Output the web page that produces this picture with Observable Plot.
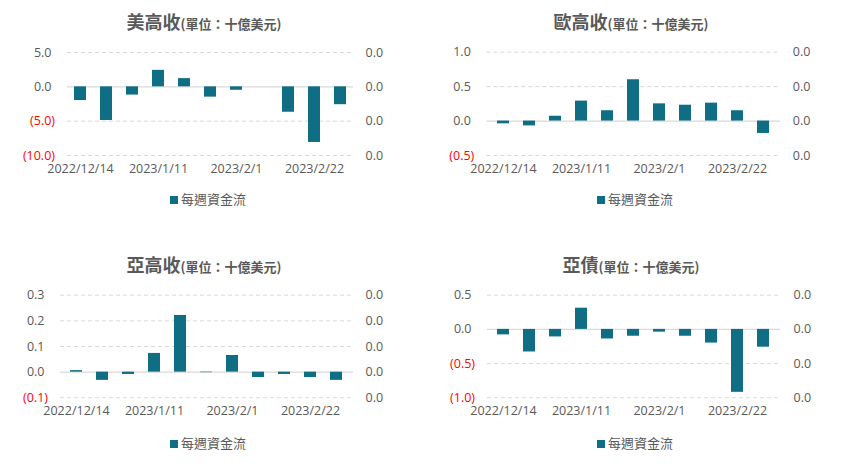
<!DOCTYPE html>
<html>
<head>
<meta charset="utf-8">
<script src="https://cdn.jsdelivr.net/npm/d3@7"></script>
<script src="https://cdn.jsdelivr.net/npm/@observablehq/plot@0.6"></script>
<style>
  html, body { margin: 0; padding: 0; background: #fff; }
  #root { position: relative; width: 846px; height: 473px; overflow: hidden; font-family: "Open Sans", "Noto Sans CJK TC", sans-serif; color: #595959; }
  .panel { position: absolute; width: 423px; height: 237px; }
  .panel svg { position: absolute; left: 0; top: 0; }
  .title { position: absolute; width: 400px; text-align: center; white-space: nowrap; font-family: "Noto Sans CJK TC", sans-serif; font-weight: bold; color: #595959; line-height: 24px; }
  .title .big { font-size: 18px; }
  .title .small { font-size: 13px; }
  .legend { position: absolute; width: 200px; text-align: center; font-family: "Noto Sans CJK TC", sans-serif; font-size: 13px; color: #595959; line-height: 16px; white-space: nowrap; }
  .legend .sw { display: inline-block; width: 8px; height: 8px; background: #0F6E84; margin-right: 3px; vertical-align: 0px; }
</style>
</head>
<body>
<div id="root"></div>
<script>
// Categories (weekly dates)
const dates = ["2022/12/14","2022/12/21","2023/1/4","2023/1/11","2023/1/18","2023/1/25","2023/2/1","2023/2/8","2023/2/15","2023/2/22","2023/3/1"];
const dateLabels = ["2022/12/14","2023/1/11","2023/2/1","2023/2/22"];

// Series values (十億美元)
const usHY     = [-2.0, -4.9, -1.2, 2.4, 1.2, -1.5, -0.5, 0, -3.7, -8.1, -2.6];
const euHY     = [-0.04, -0.07, 0.07, 0.29, 0.15, 0.60, 0.25, 0.23, 0.26, 0.15, -0.18];
const asiaHY   = [0.006, -0.032, -0.009, 0.073, 0.221, -0.002, 0.065, -0.021, -0.009, -0.021, -0.032];
const asiaDebt = [-0.08, -0.33, -0.11, 0.31, -0.14, -0.10, -0.04, -0.10, -0.20, -0.92, -0.26];

// Tick values
const ticksUS   = [5, 0, -5, -10];
const ticksEU   = [1, 0.5, 0, -0.5];
const ticksAHY  = [0.3, 0.2, 0.1, 0, -0.1];
const ticksAD   = [0.5, 0, -0.5, -1];

const titles = ["美高收", "歐高收", "亞高收", "亞債"];
const unitText = "(單位：十億美元)";
const legendText = "每週資金流";

const BAR = "#0F6E84";
const GRID = "#D9D9D9";
const TXT = "#595959";
const FONT = "'Open Sans', 'Noto Sans CJK TC', sans-serif";

const panels = [
  {left: 0,   top: 0,   values: usHY,     ticks: ticksUS,  domain: [-10, 5],   title: titles[0], m: [52, 70, 82, 67],    titleX: 204, titleY: 21, legX: 208, legY: 199, rdx: 12},
  {left: 423, top: 0,   values: euHY,     ticks: ticksEU,  domain: [-0.5, 1],  title: titles[1], m: [51.7, 65.7, 82, 63.3], titleX: 208, titleY: 21, legX: 212, legY: 199, rdx: 12},
  {left: 0,   top: 236, values: asiaHY,   ticks: ticksAHY, domain: [-0.1, 0.3],title: titles[2], m: [58.7, 70, 75.7, 60], titleX: 204, titleY: 28, legX: 208, legY: 207, rdx: 12},
  {left: 423, top: 236, values: asiaDebt, ticks: ticksAD,  domain: [-1, 0.5],  title: titles[3], m: [58.7, 66, 75.7, 64], titleX: 208, titleY: 28, legX: 212, legY: 207, rdx: 13}
];

const fmt = d => d < 0 ? "(" + Math.abs(d).toFixed(1) + ")" : d.toFixed(1);
const root = document.getElementById("root");

for (const p of panels) {
  const div = document.createElement("div");
  div.className = "panel";
  div.style.left = p.left + "px";
  div.style.top = p.top + "px";
  root.appendChild(div);

  const data = dates.map((d, i) => ({date: d, value: p.values[i]}));
  const [mt, mr, mb, ml] = p.m;
  const chart = Plot.plot({
    width: 423,
    height: 237,
    marginTop: mt, marginRight: mr, marginBottom: mb, marginLeft: ml,
    style: {fontFamily: FONT, fontSize: "12px", color: TXT, background: "transparent", overflow: "visible"},
    x: {axis: null, domain: dates, paddingInner: 0.52, paddingOuter: 0.26},
    y: {axis: null, domain: p.domain},
    marks: [
      Plot.ruleY(p.ticks.filter(d => d !== 0), {y: d => d, stroke: GRID, strokeWidth: 1, strokeDasharray: "4,3"}),
      Plot.ruleY([0], {stroke: GRID, strokeWidth: 1.3}),
      Plot.barY(data, {x: "date", y: "value", fill: BAR}),
      Plot.text(p.ticks.filter(d => d < 0), {y: d => d, text: fmt, frameAnchor: "left", textAnchor: "end", dx: -12.5, fill: "#FF0000", fontSize: 12.5}),
      Plot.text(p.ticks.filter(d => d >= 0), {y: d => d, text: fmt, frameAnchor: "left", textAnchor: "end", dx: -16, fill: TXT, fontSize: 12.5}),
      Plot.text(p.ticks, {y: d => d, text: () => "0.0", frameAnchor: "right", textAnchor: "start", dx: p.rdx, fill: TXT, fontSize: 12.5}),
      Plot.text(dateLabels, {x: d => d, text: d => d, frameAnchor: "bottom", dy: 17.5, fill: TXT, fontSize: 12.5})
    ]
  });
  div.appendChild(chart);

  const t = document.createElement("div");
  t.className = "title";
  t.style.left = (p.titleX - 200) + "px";
  t.style.top = (p.titleY - 12) + "px";
  t.innerHTML = `<span class="big">${p.title}</span><span class="small">${unitText}</span>`;
  div.appendChild(t);

  const lg = document.createElement("div");
  lg.className = "legend";
  lg.style.left = (p.legX - 100) + "px";
  lg.style.top = (p.legY - 8) + "px";
  lg.innerHTML = `<span class="sw"></span>${legendText}`;
  div.appendChild(lg);
}
</script>
</body>
</html>
